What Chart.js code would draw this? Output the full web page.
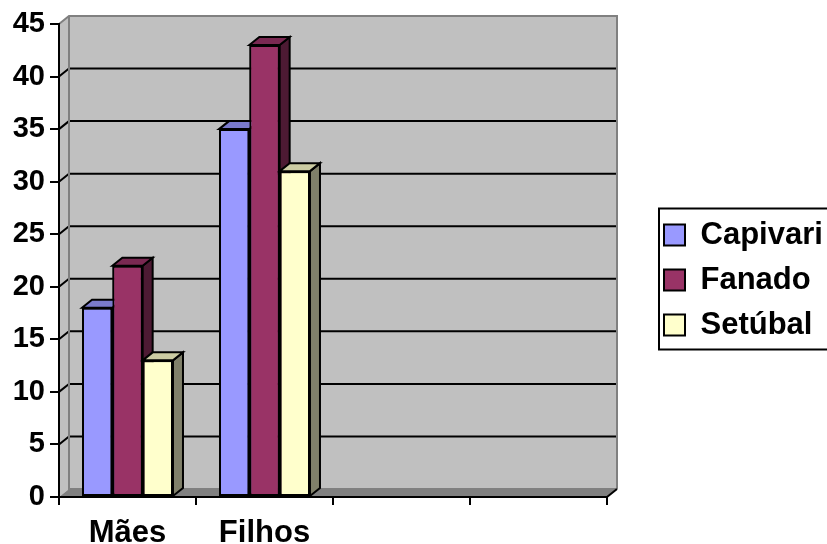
<!DOCTYPE html>
<html>
<head>
<meta charset="utf-8">
<script src="https://cdn.jsdelivr.net/npm/chart.js@4/dist/chart.umd.min.js"></script>
<style>
  html, body { margin: 0; padding: 0; background: #ffffff; }
  canvas { display: block; }
</style>
</head>
<body>
<canvas id="c" width="827" height="544"></canvas>
<script>
// Categories and series values
const categories = ['Mães', 'Filhos', '', ''];
const seriesNames = ['Capivari', 'Fanado', 'Setúbal'];
const capivari = [18, 35, null, null];
const fanado = [22, 43, null, null];
const setubal = [13, 31, null, null];

// Value axis range
const yMin = 0;
const yMax = 45;
const yStep = 5;

// Face colours: front, top (lit) and side (shaded)
const frontColors = ['#9999FF', '#993366', '#FFFFCC'];
const topColors = ['#7A7ACC', '#7A2952', '#CCCCA3'];
const sideColors = ['#4D4D80', '#4D1A33', '#80806A'];

// Depth offset of the pseudo-3D box
const DX = 10;
const DY = -8;
const FONT = "'Liberation Sans', Arial, Helvetica, sans-serif";

function poly(ctx, pts) {
  ctx.beginPath();
  ctx.moveTo(pts[0][0], pts[0][1]);
  for (let i = 1; i < pts.length; i++) ctx.lineTo(pts[i][0], pts[i][1]);
  ctx.closePath();
}

// Back wall, side wall, floor and gridlines
const wallsPlugin = {
  id: 'walls',
  beforeDraw(chart) {
    const ctx = chart.ctx;
    const { left, right, top, bottom } = chart.chartArea;
    const ys = chart.scales.y;
    ctx.save();
    ctx.fillStyle = '#C0C0C0';
    poly(ctx, [[left, top], [left + DX, top + DY], [left + DX, bottom + DY], [left, bottom]]);
    ctx.fill();
    ctx.fillRect(left + DX, top + DY, right - left, bottom - top);
    ctx.fillStyle = '#808080';
    poly(ctx, [[left, bottom], [right, bottom], [right + DX, bottom + DY], [left + DX, bottom + DY]]);
    ctx.fill();

    ctx.strokeStyle = '#000000';
    ctx.lineWidth = 2;
    for (let v = yMin + yStep; v < yMax; v += yStep) {
      const py = ys.getPixelForValue(v);
      ctx.beginPath();
      ctx.moveTo(left, py);
      ctx.lineTo(left + DX, py + DY);
      ctx.lineTo(right + DX, py + DY);
      ctx.stroke();
    }

    ctx.strokeStyle = '#808080';
    ctx.beginPath();
    ctx.moveTo(left, top);
    ctx.lineTo(left + DX, top + DY);
    ctx.lineTo(right + DX, top + DY);
    ctx.lineTo(right + DX, bottom + DY);
    ctx.moveTo(left + DX, top + DY);
    ctx.lineTo(left + DX, bottom + DY);
    ctx.lineTo(right + DX, bottom + DY);
    ctx.stroke();

    ctx.strokeStyle = '#000000';
    ctx.beginPath();
    ctx.moveTo(right, bottom);
    ctx.lineTo(right + DX, bottom + DY);
    ctx.stroke();
    ctx.restore();
  }
};

// Bars painted left to right within each group: side face, top face, then the
// library's own front rectangle, so that a neighbour hides what lies behind it.
const barDepthPlugin = {
  id: 'barDepth',
  afterDatasetsDraw(chart) {
    const ctx = chart.ctx;
    ctx.save();
    chart.data.datasets.forEach((ds, i) => {
      const meta = chart.getDatasetMeta(i);
      meta.data.forEach((bar, j) => {
        if (ds.data[j] === null || ds.data[j] === undefined) return;
        const p = bar.getProps(['x', 'y', 'base', 'width'], true);
        const L = p.x - p.width / 2;
        const R = p.x + p.width / 2;
        const T = p.y;
        const B = p.base;
        ctx.strokeStyle = '#000000';
        ctx.lineWidth = 2;
        ctx.lineJoin = 'miter';
        poly(ctx, [[R, T], [R + DX, T + DY], [R + DX, B + DY], [R, B]]);
        ctx.fillStyle = sideColors[i];
        ctx.fill();
        ctx.stroke();
        poly(ctx, [[L, T], [L + DX, T + DY], [R + DX, T + DY], [R, T]]);
        ctx.fillStyle = topColors[i];
        ctx.fill();
        ctx.stroke();
        bar.draw(ctx, chart.chartArea);
      });
    });
    ctx.restore();
  }
};

// Frame round the legend
const legendFramePlugin = {
  id: 'legendFrame',
  afterDraw(chart) {
    const lg = chart.legend;
    if (!lg || !lg.legendHitBoxes || !lg.legendHitBoxes.length) return;
    const hb = lg.legendHitBoxes;
    const first = hb[0];
    const last = hb[hb.length - 1];
    const ctx = chart.ctx;
    ctx.save();
    ctx.strokeStyle = '#000000';
    ctx.lineWidth = 2;
    const x0 = first.left - 5;
    const y0 = first.top - 11;
    const y1 = last.top + last.height + 9;
    ctx.strokeRect(x0, y0, 400, y1 - y0);
    ctx.restore();
  }
};

const seriesValues = [capivari, fanado, setubal];
const datasets = seriesNames.map((name, i) => ({
  label: name,
  data: seriesValues[i],
  backgroundColor: frontColors[i],
  borderColor: '#000000',
  borderWidth: 2,
  borderSkipped: false,
  categoryPercentage: 0.664,
  barPercentage: 1.0
}));

new Chart(document.getElementById('c'), {
  type: 'bar',
  data: { labels: categories, datasets },
  plugins: [wallsPlugin, barDepthPlugin, legendFramePlugin],
  options: {
    responsive: false,
    animation: false,
    events: [],
    layout: { padding: { top: 16, left: 0, right: 0, bottom: 0 } },
    plugins: {
      tooltip: { enabled: false },
      legend: {
        position: 'right',
        maxWidth: 177,
        labels: {
          color: '#000000',
          font: { family: FONT, size: 31, weight: 'bold' },
          boxWidth: 21,
          boxHeight: 21,
          padding: 14
        }
      }
    },
    scales: {
      x: {
        type: 'category',
        offset: true,
        afterFit: (s) => { s.height = 47; },
        grid: {
          offset: true,
          drawOnChartArea: false,
          drawTicks: true,
          tickLength: 8,
          color: '#000000',
          lineWidth: 2
        },
        border: { display: true, color: '#000000', width: 2 },
        ticks: {
          color: '#000000',
          padding: 10,
          maxRotation: 0,
          autoSkip: false,
          font: { family: FONT, size: 31, weight: 'bold' }
        }
      },
      headroom: {
        type: 'category',
        position: 'top',
        display: true,
        afterFit: (s) => { s.height = 8; },
        grid: { display: false, drawOnChartArea: false },
        border: { display: false },
        ticks: { display: false }
      },
      y: {
        type: 'linear',
        position: 'left',
        min: yMin,
        max: yMax,
        afterFit: (s) => { s.width = 59; },
        grid: {
          drawOnChartArea: false,
          drawTicks: true,
          tickLength: 9,
          color: '#000000',
          lineWidth: 2
        },
        border: { display: true, color: '#000000', width: 2 },
        ticks: {
          stepSize: yStep,
          color: '#000000',
          padding: 5,
          font: { family: FONT, size: 29, weight: 'bold' }
        }
      },
      gap: {
        type: 'linear',
        position: 'right',
        display: true,
        afterFit: (s) => { s.width = 43; },
        grid: { display: false, drawOnChartArea: false },
        border: { display: false },
        ticks: { display: false }
      }
    }
  }
});
</script>
</body>
</html>
